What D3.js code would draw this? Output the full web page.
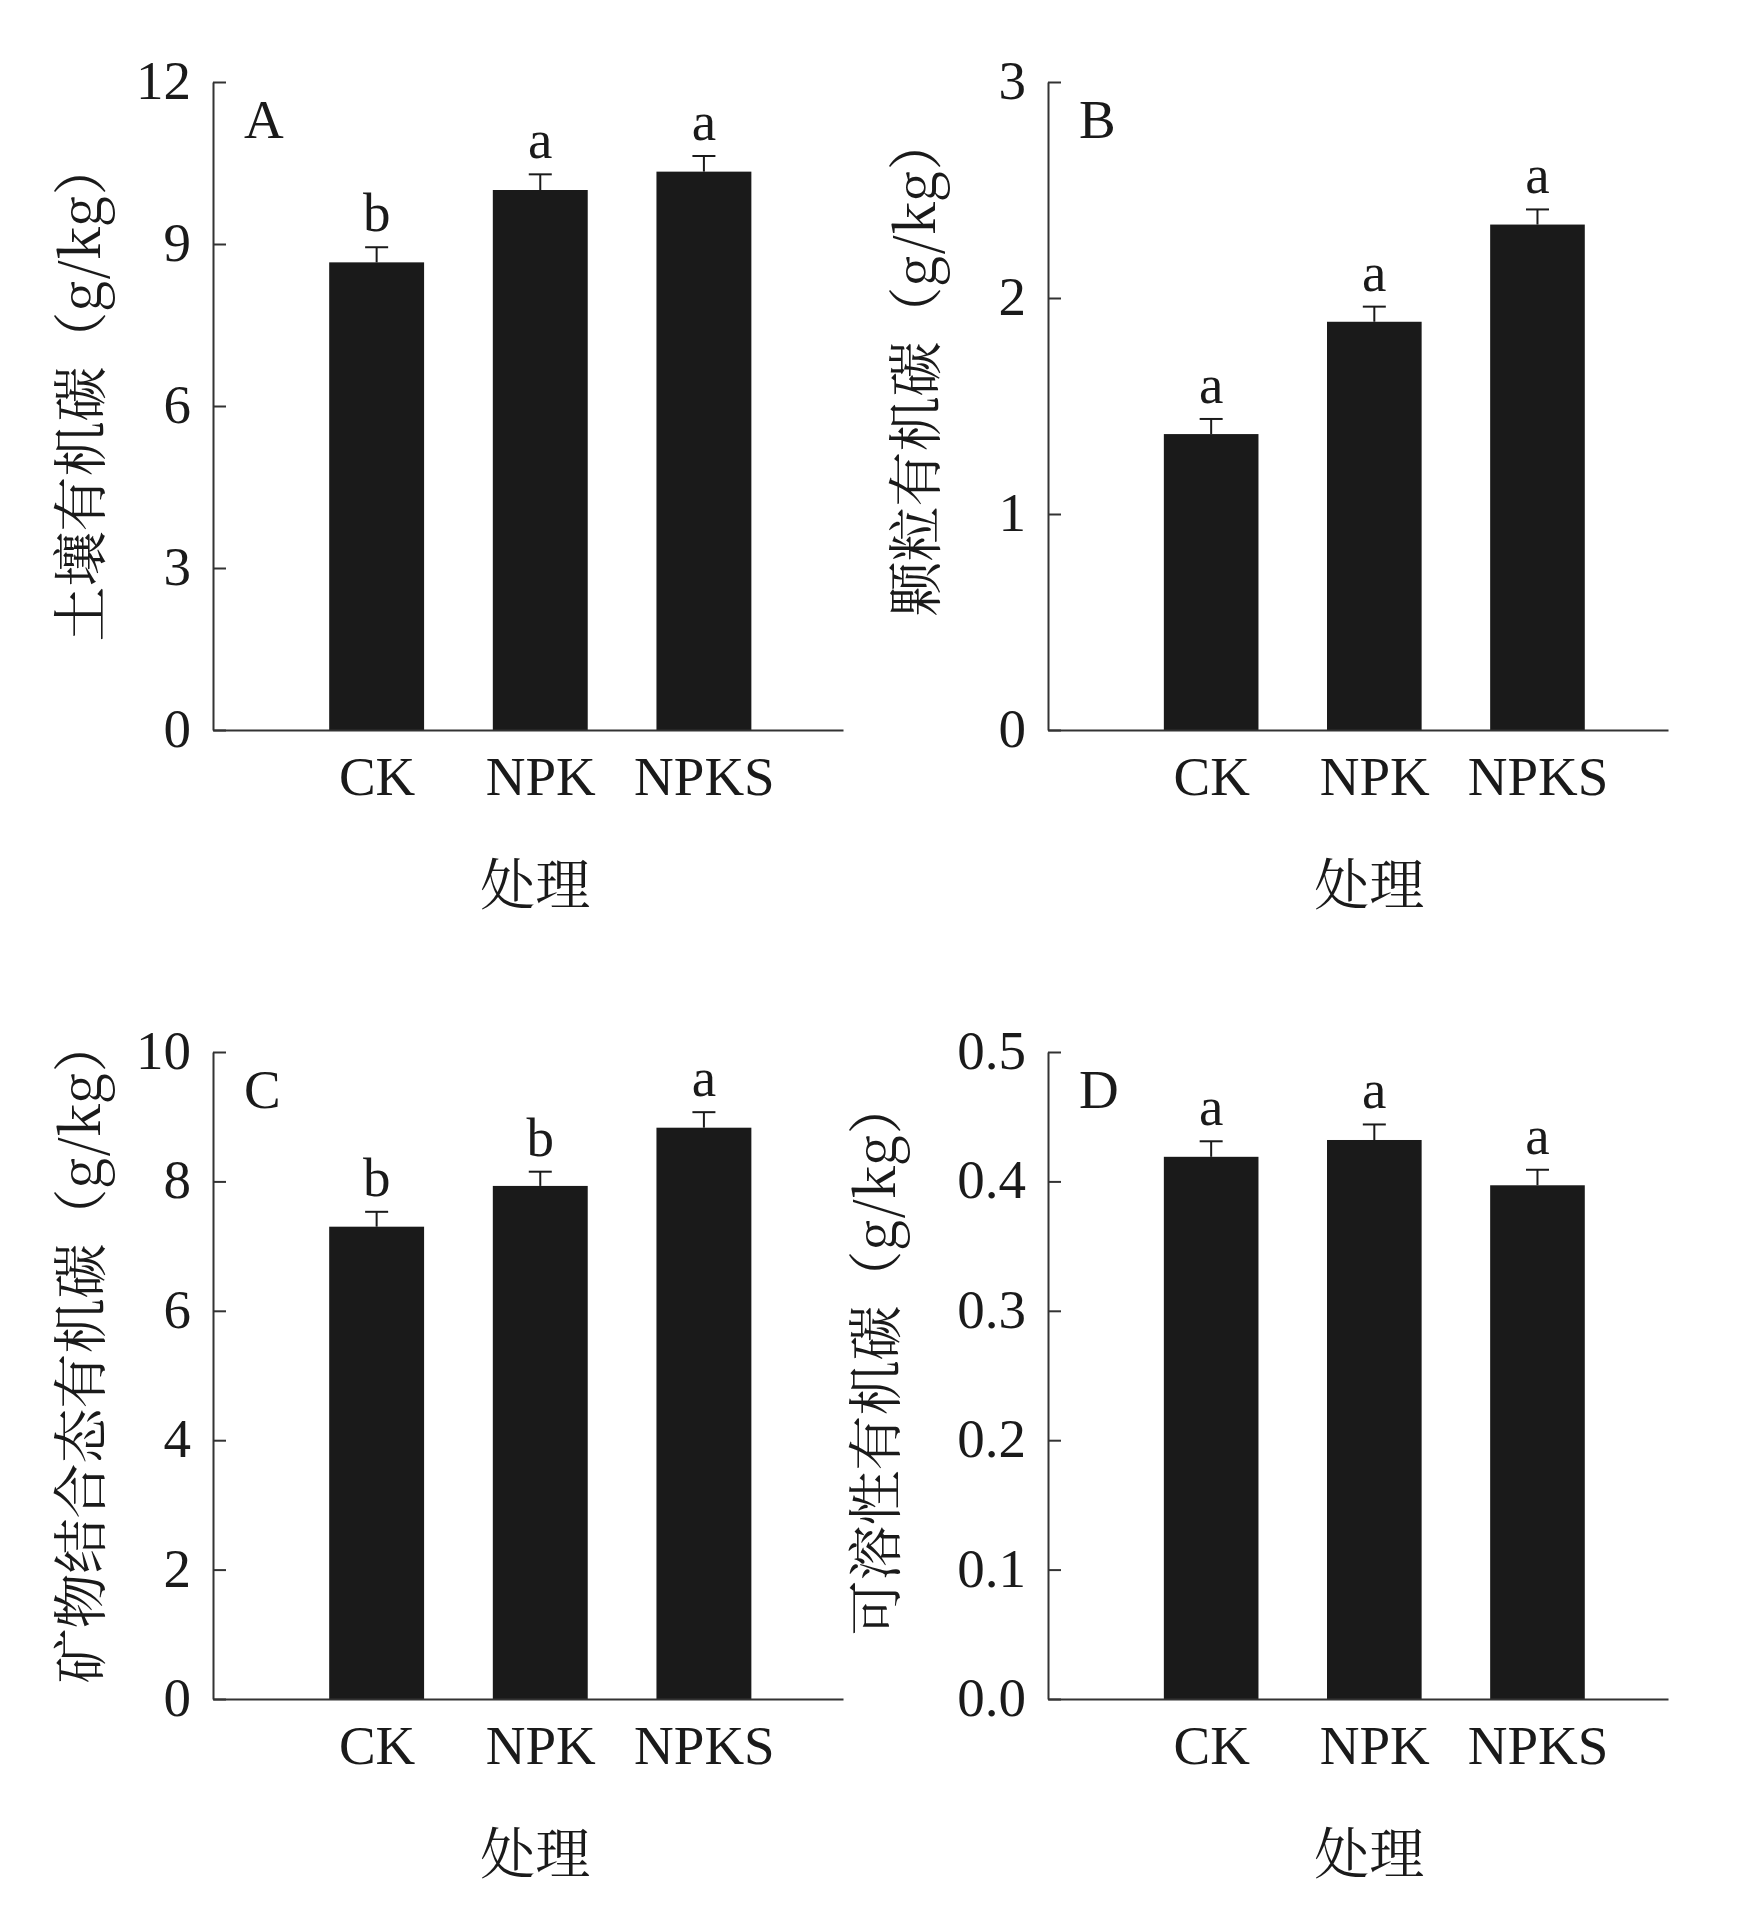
<!DOCTYPE html>
<html>
<head>
<meta charset="utf-8">
<script src="https://cdn.jsdelivr.net/npm/d3@7"></script>
<style>
  body { margin: 0; background: #fff; }
  svg { display: block; }
  .num { font-family: "Liberation Serif", "Times New Roman", serif; }
  .cjk { font-family: "Noto Serif CJK SC", "Noto Sans CJK SC", serif; }
</style>
</head>
<body>
<div id="chart"></div>
<script>
// treatments
var categories = ["CK", "NPK", "NPKS"];

// A  soil organic carbon
var socMean = [8.66, 10.00, 10.34];
var socErr  = [0.28, 0.29, 0.29];
var socSig  = ["b", "a", "a"];
var socTicks = [0, 3, 6, 9, 12];

// B  particulate organic carbon
var pocMean = [1.37, 1.89, 2.34];
var pocErr  = [0.07, 0.07, 0.07];
var pocSig  = ["a", "a", "a"];
var pocTicks = [0, 1, 2, 3];

// C  mineral-associated organic carbon
var maocMean = [7.30, 7.93, 8.83];
var maocErr  = [0.23, 0.22, 0.24];
var maocSig  = ["b", "b", "a"];
var maocTicks = [0, 2, 4, 6, 8, 10];

// D  dissolved organic carbon
var docMean = [0.419, 0.432, 0.397];
var docErr  = [0.012, 0.012, 0.012];
var docSig  = ["a", "a", "a"];
var docTicks = [0, 0.1, 0.2, 0.3, 0.4, 0.5];

var W = 1737, H = 1918;
var ink = "#1a1a1a", axisInk = "#333";
var fs = 55;

var svg = d3.select("#chart").append("svg")
  .attr("width", W)
  .attr("height", H);

svg.append("rect").attr("width", W).attr("height", H).attr("fill", "#fff");

function drawPanel(p)
{
  var g = svg.append("g");

  var x = d3.scaleLinear().domain([0, p.xMax]).range([p.left, p.right]);
  var y = d3.scaleLinear().domain([0, p.yMax]).range([p.bottom, p.top]);
  var bw = x(0.58) - x(0);

  // bars
  g.selectAll("rect.bar")
    .data(p.mean)
    .enter().append("rect")
    .attr("class", "bar")
    .attr("x", function(d, i) { return x(i + 1) - bw / 2; })
    .attr("y", function(d) { return y(d); })
    .attr("width", bw)
    .attr("height", function(d) { return y(0) - y(d); })
    .attr("fill", ink);

  // error bars (upper half only, lower half hides in the bar)
  var eb = g.selectAll("g.err")
    .data(p.mean)
    .enter().append("g")
    .attr("class", "err");

  eb.append("line")
    .attr("x1", function(d, i) { return x(i + 1); })
    .attr("x2", function(d, i) { return x(i + 1); })
    .attr("y1", function(d) { return y(d); })
    .attr("y2", function(d, i) { return y(d + p.err[i]); })
    .attr("stroke", ink).attr("stroke-width", 2);

  eb.append("line")
    .attr("x1", function(d, i) { return x(i + 1) - 11.5; })
    .attr("x2", function(d, i) { return x(i + 1) + 11.5; })
    .attr("y1", function(d, i) { return y(d + p.err[i]); })
    .attr("y2", function(d, i) { return y(d + p.err[i]); })
    .attr("stroke", ink).attr("stroke-width", 2);

  // significance letters
  g.selectAll("text.sig")
    .data(p.mean)
    .enter().append("text")
    .attr("class", "num sig")
    .attr("x", function(d, i) { return x(i + 1); })
    .attr("y", function(d, i) { return y(d + p.err[i]) - 16; })
    .attr("text-anchor", "middle")
    .attr("font-size", fs)
    .attr("fill", ink)
    .text(function(d, i) { return p.sig[i]; });

  // y axis, ticks inward
  var yAxis = d3.axisLeft(y)
    .tickValues(p.ticks)
    .tickFormat(p.fmt)
    .tickSizeInner(-13)
    .tickSizeOuter(0)
    .tickPadding(22);

  var ya = g.append("g")
    .attr("transform", "translate(" + p.left + ",0)")
    .call(yAxis);
  ya.select(".domain").attr("stroke", axisInk).attr("stroke-width", 2);
  ya.selectAll(".tick line").attr("stroke", axisInk).attr("stroke-width", 2);
  ya.selectAll(".tick text")
    .attr("class", "num")
    .attr("font-size", fs)
    .attr("fill", ink)
    .attr("dy", "0.3em");

  // x axis, no ticks
  var xAxis = d3.axisBottom(x)
    .tickValues([1, 2, 3])
    .tickFormat(function(d) { return categories[d - 1]; })
    .tickSize(0)
    .tickPadding(26);

  var xa = g.append("g")
    .attr("transform", "translate(0," + p.bottom + ")")
    .call(xAxis);
  xa.select(".domain").attr("stroke", axisInk).attr("stroke-width", 2);
  xa.selectAll(".tick text")
    .attr("class", "num")
    .attr("font-size", fs)
    .attr("fill", ink);

  // panel letter
  g.append("text")
    .attr("class", "num")
    .attr("x", p.left + 31)
    .attr("y", p.top + 56)
    .attr("font-size", fs)
    .attr("fill", ink)
    .text(p.letter);

  // axis titles
  g.append("text")
    .attr("class", "cjk")
    .attr("x", x(2) - 5)
    .attr("y", p.bottom + 174)
    .attr("text-anchor", "middle")
    .attr("font-size", fs)
    .attr("fill", ink)
    .text("处理");

  var cy = (p.top + p.bottom) / 2 + p.ylabShift;
  g.append("text")
    .attr("class", "cjk")
    .attr("transform", "translate(" + (p.left - p.ylabOff) + "," + cy + ") rotate(-90)")
    .attr("text-anchor", "middle")
    .attr("dominant-baseline", "central")
    .attr("font-size", fs)
    .attr("fill", ink)
    .text(p.ylab);
}

drawPanel({ letter: "A", left: 213, right: 843, top: 82, bottom: 730, xMax: 3.85,
  yMax: 12, ticks: socTicks, fmt: d3.format("d"),
  mean: socMean, err: socErr, sig: socSig,
  ylab: "土壤有机碳（g/kg）", ylabOff: 137, ylabShift: -15 });

drawPanel({ letter: "B", left: 1048, right: 1668, top: 82, bottom: 730, xMax: 3.8,
  yMax: 3, ticks: pocTicks, fmt: d3.format("d"),
  mean: pocMean, err: pocErr, sig: pocSig,
  ylab: "颗粒有机碳（g/kg）", ylabOff: 137, ylabShift: -40 });

drawPanel({ letter: "C", left: 213, right: 843, top: 1052, bottom: 1699, xMax: 3.85,
  yMax: 10, ticks: maocTicks, fmt: d3.format("d"),
  mean: maocMean, err: maocErr, sig: maocSig,
  ylab: "矿物结合态有机碳（g/kg）", ylabOff: 137, ylabShift: -25 });

drawPanel({ letter: "D", left: 1048, right: 1668, top: 1052, bottom: 1699, xMax: 3.8,
  yMax: 0.5, ticks: docTicks, fmt: d3.format(".1f"),
  mean: docMean, err: docErr, sig: docSig,
  ylab: "可溶性有机碳（g/kg）", ylabOff: 177, ylabShift: -18 });
</script>
</body>
</html>
